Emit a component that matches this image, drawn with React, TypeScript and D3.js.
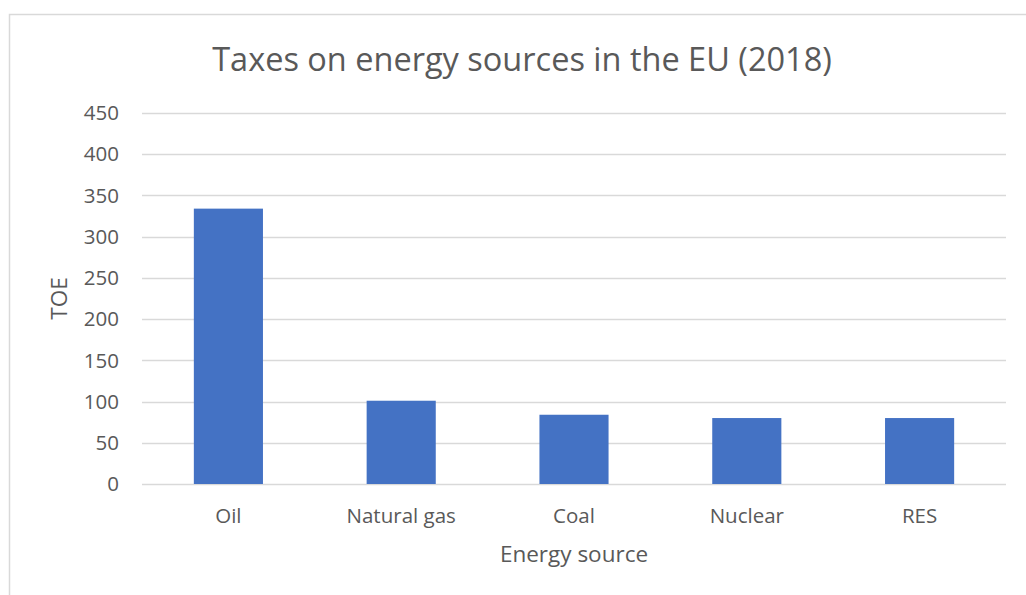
import React from "react";
import * as d3 from "d3";

const categories = ["Oil", "Natural gas", "Coal", "Nuclear", "RES"];
const values = [334, 101, 84, 80, 80];
const yTicks = [0, 50, 100, 150, 200, 250, 300, 350, 400, 450];
const title = "Taxes on energy sources in the EU (2018)";
const xTitle = "Energy source";
const yTitle = "TOE";

const W = 1026;
const H = 595;
const font = "'Open Sans', 'Liberation Sans', sans-serif";
const textColor = "#595959";

export default function App() {
  const left = 142, right = 1006, top = 113, bottom = 484;
  const x = d3.scaleBand<string>().domain(categories).range([left, right]).paddingInner(0.6).paddingOuter(0.3);
  const y = d3.scaleLinear().domain([0, 450]).range([bottom, top]);
  return (
    <svg width={W} height={H} style={{ position: "absolute", left: 0, top: 0, background: "#fff" }} fontFamily={font}>
      <rect x={9.5} y={14.5} width={W + 20} height={H + 20} fill="#fff" stroke="#d9d9d9" strokeWidth={1.5} />
      <text x={522} y={71} textAnchor="middle" fontSize={32.5} fill={textColor}>{title}</text>
      {yTicks.map((t) => (
        <g key={t}>
          <line x1={left} x2={right} y1={Math.round(y(t)) + 0.5} y2={Math.round(y(t)) + 0.5} stroke="#d9d9d9" strokeWidth={1.5} />
          <text x={119} y={y(t)} dy="0.35em" textAnchor="end" fontSize={20.5} fill={textColor}>{t}</text>
        </g>
      ))}
      {categories.map((c, i) => (
        <g key={c}>
          <rect x={x(c)} y={y(values[i])} width={x.bandwidth()} height={y(0) - y(values[i])} fill="#4472c4" />
          <text x={(x(c) ?? 0) + x.bandwidth() / 2} y={523} textAnchor="middle" fontSize={20.5} fill={textColor}>{c}</text>
        </g>
      ))}
      <text x={(left + right) / 2} y={562} textAnchor="middle" fontSize={22.5} fill={textColor}>{xTitle}</text>
      <text transform={`translate(67, ${(top + bottom) / 2}) rotate(-90)`} textAnchor="middle" fontSize={22.5} fill={textColor}>{yTitle}</text>
    </svg>
  );
}
